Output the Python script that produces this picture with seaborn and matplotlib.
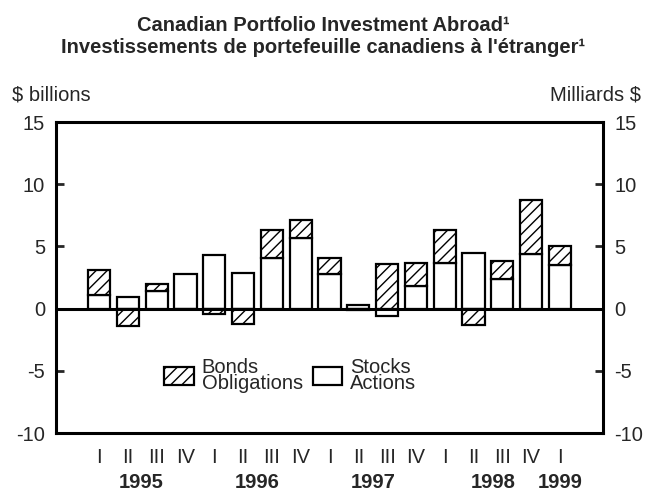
import pandas as pd
import numpy as np
import matplotlib
matplotlib.use('Agg')
import matplotlib.pyplot as plt
from matplotlib.patches import Patch
import seaborn as sns

# Quarterly flows, $ billions
periods = ['1995 I', '1995 II', '1995 III', '1995 IV',
           '1996 I', '1996 II', '1996 III', '1996 IV',
           '1997 I', '1997 II', '1997 III', '1997 IV',
           '1998 I', '1998 II', '1998 III', '1998 IV',
           '1999 I']
quarter_labels = ['I', 'II', 'III', 'IV'] * 4 + ['I']
stocks = [1.1, 0.9, 1.4, 2.8, 4.3, 2.9, 4.1, 5.7, 2.8, 0.3, -0.6, 1.8, 3.7, 4.5, 2.4, 4.4, 3.5]
bonds = [2.0, -1.4, 0.6, 0.0, -0.4, -1.2, 2.2, 1.4, 1.3, -0.1, 3.6, 1.9, 2.6, -1.3, 1.4, 4.3, 1.5]
years = ['1995', '1996', '1997', '1998', '1999']
year_pos = [1.45, 5.5, 9.5, 13.7, 16]

df = pd.DataFrame({'period': periods, 'stocks': stocks, 'bonds': bonds})
# bonds stack on top of stocks when same sign, otherwise start from zero
df['bonds_base'] = np.where(np.sign(df['bonds']) == np.sign(df['stocks']), df['stocks'], 0)

sns.set_style('white')
plt.rcParams['font.family'] = ['Liberation Sans', 'DejaVu Sans']
plt.rcParams['hatch.linewidth'] = 1.0
plt.rcParams['axes.unicode_minus'] = False
fs = 14.5

fig = plt.figure(figsize=(6.47, 4.93), dpi=100)
ax = fig.add_axes([0.0866, 0.1217, 0.8454, 0.6308])

sns.barplot(data=df, x='period', y='stocks', color='white', edgecolor='black',
            linewidth=1.6, width=0.77, saturation=1, errorbar=None, ax=ax)
sns.barplot(data=df, x='period', y='bonds', bottom=df['bonds_base'].values,
            color='white', edgecolor='black', linewidth=1.6, width=0.77,
            saturation=1, errorbar=None, hatch='///', ax=ax)

ax.axhline(0, color='black', lw=2.2, zorder=5)
ax.set_xlim(-1.5, 17.5)
ax.set_ylim(-10, 15)
ax.set_xlabel('')
ax.set_ylabel('')

for s in ax.spines.values():
    s.set_linewidth(2.2)
    s.set_color('black')

# y ticks on both sides
ax.set_yticks([-10, -5, 0, 5, 10, 15])
ax.tick_params(axis='y', which='both', direction='in', length=6, width=2,
               left=True, right=True, labelleft=True, labelright=True,
               labelsize=fs, pad=8)

# quarter ticks: long at the first quarter of each year
major = [0, 4, 8, 12, 16]
minor = [i for i in range(17) if i not in major]
ax.set_xticks(major, [quarter_labels[i] for i in major])
ax.set_xticks(minor, [quarter_labels[i] for i in minor], minor=True)
ax.tick_params(axis='x', which='major', direction='in', length=14, width=2,
               labelsize=fs, pad=11)
ax.tick_params(axis='x', which='minor', direction='in', length=5, width=2,
               labelsize=fs, pad=11)

for y, p in zip(years, year_pos):
    ax.text(p, -0.158, y, transform=ax.get_xaxis_transform(), ha='center',
            va='center', fontsize=fs, fontweight='bold')

# legend
handles = [Patch(facecolor='white', edgecolor='black', hatch='///', lw=1.6),
           Patch(facecolor='white', edgecolor='black', lw=1.6)]
leg = ax.legend(handles, ['Bonds\nObligations', 'Stocks\nActions'], ncol=2,
                frameon=False, fontsize=fs, loc='center left',
                bbox_to_anchor=(0.165, 0.185), handlelength=1.45, handleheight=1.0,
                handletextpad=0.4, columnspacing=0.5)
for t in leg.get_texts():
    t.set_linespacing(0.85)

fig.text(0.5, 0.938, 'Canadian Portfolio Investment Abroad\u00b9', ha='center',
         va='baseline', fontsize=fs, fontweight='bold')
fig.text(0.5, 0.8925, "Investissements de portefeuille canadiens \u00e0 l'\u00e9tranger\u00b9",
         ha='center', va='baseline', fontsize=fs, fontweight='bold')
fig.text(0.018, 0.797, '$ billions', ha='left', va='baseline', fontsize=fs)
fig.text(0.991, 0.797, 'Milliards $', ha='right', va='baseline', fontsize=fs)

fig.savefig('out.png', dpi=100)
